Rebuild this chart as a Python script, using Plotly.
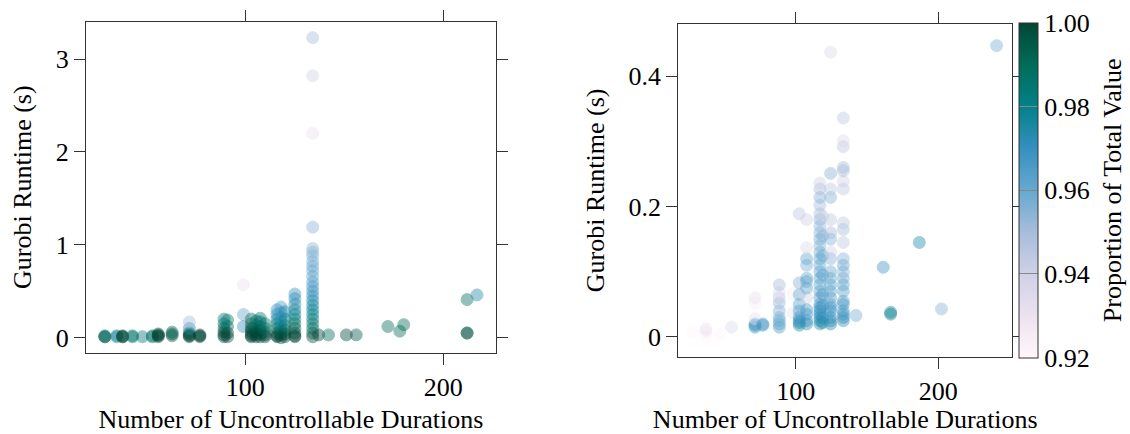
import plotly.graph_objects as go

# ---- Left panel: all instances ----
left_x = (
    [29, 29, 29] + [35, 35] + [38, 38, 38] + [43, 43] + [48] + [53, 53] + [56, 56, 56, 56]
    + [63, 63, 63] + [71.7] * 6 + [77, 77, 77]
    + [89.2] * 6 + [91] * 4 + [99, 99, 99]
    + [103] * 7 + [105.5] * 6 + [107.5] * 6 + [110] * 5
    + [116] * 8 + [118] * 8 + [120] * 6 + [125] * 11
    + [134] * 24
    + [137, 142, 151, 156, 172, 178, 180, 212, 212, 212, 217]
)
left_y = (
    [0.01, 0.01, 0.02] + [0.01, 0.02] + [0.01, 0.02, 0.01] + [0.01, 0.02] + [0.01] + [0.01, 0.02]
    + [0.01, 0.02, 0.03, 0.04]
    + [0.02, 0.04, 0.06] + [0.01, 0.02, 0.03, 0.05, 0.10, 0.17] + [0.01, 0.02, 0.03]
    + [0.01, 0.03, 0.06, 0.10, 0.15, 0.20] + [0.01, 0.05, 0.12, 0.19] + [0.57, 0.25, 0.12]
    + [0.01, 0.02, 0.04, 0.07, 0.10, 0.15, 0.20]
    + [0.01, 0.03, 0.06, 0.09, 0.13, 0.18]
    + [0.01, 0.04, 0.08, 0.12, 0.17, 0.21]
    + [0.01, 0.03, 0.06, 0.10, 0.15]
    + [0.01, 0.02, 0.05, 0.10, 0.15, 0.20, 0.25, 0.30]
    + [0.00, 0.03, 0.07, 0.12, 0.18, 0.22, 0.27, 0.33]
    + [0.01, 0.04, 0.08, 0.13, 0.20, 0.28]
    + [0.01, 0.02, 0.05, 0.10, 0.15, 0.20, 0.25, 0.30, 0.36, 0.42, 0.47]
    + [0.01, 0.05, 0.10, 0.15, 0.20, 0.25, 0.30, 0.35, 0.40, 0.45, 0.50, 0.55,
       0.60, 0.66, 0.72, 0.77, 0.82, 0.88, 0.92, 0.96, 1.19, 2.20, 2.82, 3.23]
    + [0.03, 0.03, 0.03, 0.03, 0.12, 0.07, 0.14, 0.41, 0.05, 0.05, 0.46]
)
left_c = (
    [0.99, 1.0, 0.985] + [0.975, 0.98] + [1.0, 1.0, 1.0] + [0.99, 0.985] + [0.985] + [0.99, 0.985]
    + [1.0, 1.0, 1.0, 1.0]
    + [0.995, 1.0, 0.99] + [1.0, 1.0, 1.0, 1.0, 0.975, 0.95] + [1.0, 1.0, 1.0]
    + [1.0, 1.0, 1.0, 0.995, 0.99, 0.985] + [1.0, 1.0, 0.99, 0.985] + [0.93, 0.96, 0.97]
    + [1.0, 1.0, 1.0, 1.0, 1.0, 0.995, 0.99]
    + [1.0, 1.0, 1.0, 0.995, 0.99, 0.985]
    + [1.0, 1.0, 1.0, 0.995, 0.99, 0.985]
    + [1.0, 1.0, 0.995, 0.99, 0.985]
    + [1.0, 1.0, 1.0, 0.995, 0.985, 0.98, 0.975, 0.97]
    + [1.0, 1.0, 0.99, 0.98, 0.975, 0.97, 0.968, 0.965]
    + [1.0, 1.0, 0.995, 0.985, 0.98, 0.975]
    + [1.0, 1.0, 1.0, 0.995, 0.99, 0.985, 0.98, 0.978, 0.975, 0.972, 0.97]
    + [1.0, 0.995, 0.99, 0.985, 0.985, 0.98, 0.98, 0.978, 0.975, 0.972, 0.97, 0.968,
       0.965, 0.962, 0.96, 0.96, 0.958, 0.956, 0.955, 0.955, 0.955, 0.93, 0.94, 0.95]
    + [1.0, 0.99, 1.0, 0.995, 0.99, 0.99, 0.99, 0.99, 1.0, 0.995, 0.975]
)

# ---- Right panel: subset ----
right_x = (
    [28] + [37, 37, 37] + [47] + [55] + [71.5] * 6 + [77, 77]
    + [88.5] * 9 + [98.3, 98.3] + [102.5] * 9 + [107.7] * 12
    + [117] * 25 + [119] * 8 + [124.5] * 20 + [133.4] * 22
    + [142.3, 161.4, 166.6, 166.6, 186.7, 202.2, 240.9]
)
right_y = (
    [0.006] + [0.000, 0.008, 0.012] + [0.004] + [0.015]
    + [0.015, 0.018, 0.020, 0.028, 0.052, 0.060] + [0.018, 0.020]
    + [0.015, 0.020, 0.025, 0.030, 0.040, 0.052, 0.060, 0.068, 0.080]
    + [0.037, 0.066]
    + [0.018, 0.022, 0.025, 0.030, 0.040, 0.050, 0.065, 0.083, 0.189]
    + [0.020, 0.025, 0.035, 0.042, 0.060, 0.075, 0.085, 0.090, 0.110, 0.120, 0.137, 0.180]
    + [0.020, 0.025, 0.030, 0.035, 0.040, 0.045, 0.050, 0.060, 0.070, 0.080, 0.090, 0.100,
       0.110, 0.120, 0.130, 0.140, 0.150, 0.160, 0.170, 0.180, 0.189, 0.202, 0.214, 0.227, 0.236]
    + [0.022, 0.030, 0.048, 0.065, 0.095, 0.125, 0.155, 0.185]
    + [0.020, 0.025, 0.030, 0.040, 0.045, 0.050, 0.060, 0.070, 0.080, 0.090,
       0.100, 0.120, 0.130, 0.150, 0.160, 0.180, 0.214, 0.227, 0.251, 0.437]
    + [0.025, 0.030, 0.035, 0.040, 0.050, 0.055, 0.070, 0.080, 0.090, 0.100, 0.110,
       0.120, 0.145, 0.165, 0.175, 0.227, 0.239, 0.255, 0.260, 0.292, 0.301, 0.336]
    + [0.033, 0.107, 0.035, 0.038, 0.145, 0.043, 0.447]
)
right_c = (
    [0.92] + [0.92, 0.925, 0.93] + [0.92] + [0.935]
    + [0.97, 0.97, 0.965, 0.93, 0.925, 0.93] + [0.97, 0.965]
    + [0.965, 0.962, 0.96, 0.958, 0.955, 0.952, 0.945, 0.935, 0.95]
    + [0.93, 0.925]
    + [0.975, 0.975, 0.97, 0.97, 0.965, 0.962, 0.96, 0.955, 0.945]
    + [0.972, 0.97, 0.968, 0.965, 0.94, 0.962, 0.96, 0.962, 0.958, 0.96, 0.935, 0.94]
    + [0.975, 0.972, 0.97, 0.972, 0.97, 0.97, 0.968, 0.965, 0.963, 0.962, 0.963, 0.962,
       0.96, 0.962, 0.96, 0.956, 0.958, 0.955, 0.953, 0.955, 0.95, 0.95, 0.955, 0.95, 0.94]
    + [0.975, 0.972, 0.968, 0.965, 0.962, 0.96, 0.955, 0.94]
    + [0.975, 0.972, 0.97, 0.97, 0.968, 0.965, 0.963, 0.962, 0.963, 0.96,
       0.96, 0.955, 0.94, 0.955, 0.95, 0.945, 0.955, 0.945, 0.955, 0.935]
    + [0.972, 0.97, 0.968, 0.966, 0.968, 0.965, 0.962, 0.962, 0.96, 0.955, 0.96,
       0.955, 0.945, 0.95, 0.945, 0.945, 0.94, 0.95, 0.95, 0.945, 0.935, 0.945]
    + [0.958, 0.968, 0.98, 0.978, 0.975, 0.955, 0.958]
)

CMIN, CMAX = 0.92, 1.00
SCALE = "PuBuGn"
FONT = "Liberation Serif"
FSIZE = 26
AXIS_COLOR = "#333333"


def marker(colors, show):
    m = dict(
        size=12,
        color=colors,
        colorscale=SCALE,
        cmin=CMIN,
        cmax=CMAX,
        opacity=0.42,
        line=dict(width=1, color=colors, colorscale=SCALE, cmin=CMIN, cmax=CMAX),
        showscale=show,
    )
    if show:
        m["colorbar"] = dict(
            x=1019 / 1130,
            xanchor="left",
            y=1 - 191.5 / 434,
            yanchor="middle",
            len=335,
            lenmode="pixels",
            thickness=19,
            thicknessmode="pixels",
            outlinewidth=1,
            outlinecolor=AXIS_COLOR,
            tickvals=[0.92, 0.94, 0.96, 0.98, 1.00],
            ticktext=["0.92", "0.94", "0.96", "0.98", "1.00"],
            ticks="inside",
            ticklen=19,
            tickcolor="#888888",
            tickwidth=1,
            tickfont=dict(family=FONT, size=FSIZE, color="black"),
            ypad=0,
            xpad=0,
        )
    return m


fig = go.Figure()
fig.add_trace(go.Scatter(x=left_x, y=left_y, mode="markers",
                         marker=marker(left_c, False), xaxis="x", yaxis="y",
                         hoverinfo="x+y"))
fig.add_trace(go.Scatter(x=right_x, y=right_y, mode="markers",
                         marker=marker(right_c, True), xaxis="x2", yaxis="y2",
                         hoverinfo="x+y"))

axis_common = dict(
    showline=True, linecolor=AXIS_COLOR, linewidth=1, mirror="ticks",
    ticks="outside", ticklen=11, tickcolor=AXIS_COLOR, tickwidth=1,
    showgrid=False, zeroline=False,
    tickfont=dict(family=FONT, size=FSIZE, color="black"),
    title_font=dict(family=FONT, size=FSIZE, color="black"),
)

fig.update_layout(
    width=1130, height=434,
    margin=dict(l=0, r=0, t=0, b=0),
    paper_bgcolor="white", plot_bgcolor="white",
    showlegend=False,
    xaxis=dict(domain=[86 / 1130, 496 / 1130], range=[19.5, 226.6], anchor="y",
               tickvals=[100, 200], title=dict(text="Number of Uncontrollable Durations", standoff=10),
               **axis_common),
    yaxis=dict(domain=[1 - 355 / 434, 1 - 22 / 434], range=[-0.16, 3.40], anchor="x",
               tickvals=[0, 1, 2, 3], title=dict(text="Gurobi Runtime (s)", standoff=16),
               **axis_common),
    xaxis2=dict(domain=[678.3 / 1130, 1012.3 / 1130], range=[17.7, 251.9], anchor="y2",
                tickvals=[100, 200], title=dict(text="Number of Uncontrollable Durations", standoff=10),
                **axis_common),
    yaxis2=dict(domain=[1 - 359 / 434, 1 - 24.3 / 434], range=[-0.030, 0.48], anchor="x2",
                tickvals=[0, 0.2, 0.4], ticktext=["0", "0.2", "0.4"],
                title=dict(text="Gurobi Runtime (s)", standoff=16),
                **axis_common),
    annotations=[dict(
        text="Proportion of Total Value", textangle=-90,
        x=1112 / 1130, y=1 - 191.5 / 434, xref="paper", yref="paper",
        xanchor="center", yanchor="middle", showarrow=False,
        font=dict(family=FONT, size=FSIZE, color="black"),
    )],
)

fig.write_html("out.html")
